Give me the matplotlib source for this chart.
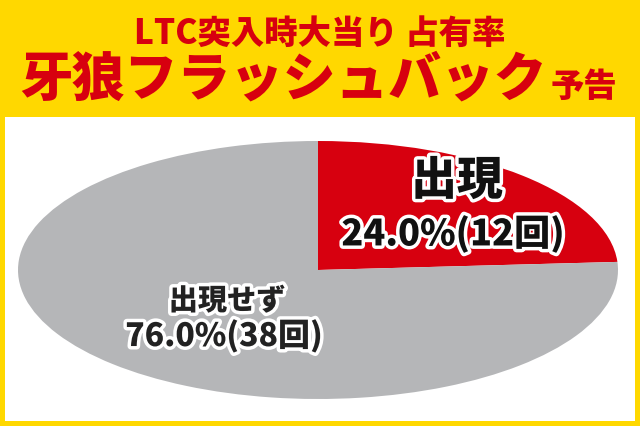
import matplotlib.pyplot as plt
import matplotlib.patheffects as pe
from matplotlib.patches import Rectangle

plt.rcParams['font.family'] = ['Noto Sans CJK JP', 'DejaVu Sans']

# データ
labels = ['出現', '出現せず']
percents = [24.0, 76.0]
counts = [12, 38]
colors = ['#D7000F', '#B5B6B8']

title1 = 'LTC突入時大当り 占有率'
title2 = '牙狼フラッシュバック'
title2_small = '予告'

W, H = 640, 427
fig = plt.figure(figsize=(W / 100, H / 100), dpi=100)
fig.patch.set_facecolor('#FFD800')

# 白いパネル
fig.add_artist(Rectangle((5 / W, 5 / H), 630 / W, (309 - 5) / H,
                         transform=fig.transFigure, facecolor='white',
                         edgecolor='none', zorder=0))

# 楕円の円グラフ
ax = fig.add_axes([18 / W, 27 / H, 600 / W, 258 / H])
ax.pie(percents, colors=colors, startangle=90, counterclock=False,
       wedgeprops=dict(linewidth=0))
ax.set_aspect('auto')
ax.set_xlim(-1, 1)
ax.set_ylim(-1, 1)
ax.axis('off')

# タイトル
red = '#D7000F'
fig.text(320 / W, 1 - 33 / H, title1, ha='center', va='center',
         fontsize=24, fontweight='black', color=red)
fig.text(283 / W, 1 - 80 / H, title2, ha='center', va='center',
         fontsize=38, fontweight='black', color=red)
fig.text(584 / W, 1 - 86 / H, title2_small, ha='center', va='center',
         fontsize=24, fontweight='black', color=red)

# ラベル
stroke = [pe.withStroke(linewidth=5, foreground='white')]
fig.text(457 / W, 1 - 182 / H, labels[0], ha='center', va='center',
         fontsize=33, fontweight='black', color='#111111', path_effects=stroke)
fig.text(453 / W, 1 - 235 / H, f'{percents[0]:.1f}%({counts[0]}回)',
         ha='center', va='center', fontsize=26, fontweight='black',
         color='#111111', path_effects=stroke)
fig.text(227 / W, 1 - 302 / H, labels[1], ha='center', va='center',
         fontsize=21, fontweight='black', color='#222222', path_effects=stroke)
fig.text(224 / W, 1 - 337 / H, f'{percents[1]:.1f}%({counts[1]}回)',
         ha='center', va='center', fontsize=23, fontweight='black',
         color='#222222', path_effects=stroke)

fig.savefig('out.png', dpi=100, facecolor=fig.get_facecolor())
